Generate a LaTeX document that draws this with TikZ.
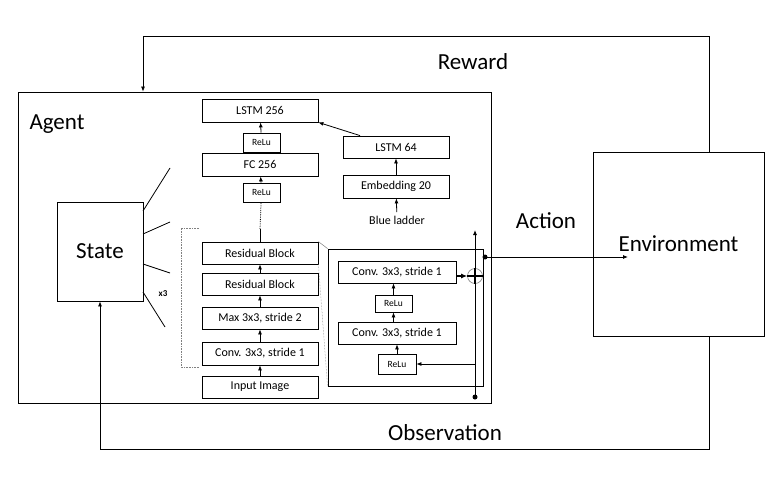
\documentclass[tikz,border=0pt]{standalone}
\usepackage{fontspec}
\setmainfont{Carlito}
\usetikzlibrary{arrows.meta}
\begin{document}
\begin{tikzpicture}[x=1pt,y=-1pt,line width=0.8pt,
    block/.style={draw,rectangle,inner sep=0,minimum width=116,minimum height=22,font=\fontsize{12}{14}\selectfont},
    relu/.style={draw,rectangle,inner sep=0,minimum width=37,minimum height=19,font=\fontsize{9.5}{11}\selectfont},
    big/.style={font=\fontsize{23}{27}\selectfont},
    flow/.style={-{Latex[length=5pt,width=4pt]}}]
        \useasboundingbox (0,0) rectangle (781,484);

        % agent and environment
        \draw (254.5,247.5) node[draw,minimum width=473,minimum height=311](agent) {};
        \draw (678.5,244) node[draw,big,minimum width=171,minimum height=184,fill=white](env) {Environment};
        \draw (57,124) node[big](agentlabel) {Agent};
        \draw (100,251.5) node[draw,big,minimum width=86,minimum height=99](state) {State};

        % loop round the two
        \draw[flow] (env.north -| 709,0) -- (709,36) -| (agent.north -| 143,0);
        \draw[flow] (env.south -| 709,0) -- (709,449) -| (state.south);
        \draw (473,62) node[big](reward) {Reward};
        \draw (445,433) node[big](obs) {Observation};
        \draw (546,221) node[big](action) {Action};

        % lines out of the state
        \draw (143,211) -- (170,168);
        \draw (143,234) -- (170,222);
        \draw (143,264) -- (170,273);
        \draw (143,292) -- (165,327);
        \draw (163,294) node[font=\fontsize{9}{11}\selectfont\bfseries](xthree) {x3};
        \draw[gray,densely dotted,line width=0.6pt] (199,228) -- (181,228) -- (181,367) -- (199,367);

        % image column
        \draw (260,110.5) node[block,minimum height=23](lstmbig) {LSTM 256};
        \draw (261.5,142.5) node[relu](relutwo) {ReLu};
        \draw (260,164.5) node[block,minimum height=23](fc) {FC 256};
        \draw (261.5,192.5) node[relu](reluone) {ReLu};
        \draw (260,253) node[block](resone) {Residual Block};
        \draw (260,284) node[block](restwo) {Residual Block};
        \draw (260,318) node[block](maxpool) {Max 3x3, stride 2};
        \draw (260,353.5) node[block,minimum height=23](convin) {Conv. 3x3, stride 1};
        \draw (260,387) node[block](input) {Input Image};

        \draw[flow] (input) -- (convin);
        \draw[flow] (convin) -- (maxpool);
        \draw[flow] (maxpool) -- (restwo);
        \draw[flow] (restwo) -- (resone);
        \coordinate (mid) at (260,229);
        \draw (resone) -- (mid);
        \draw[densely dotted] (mid) -- (reluone);
        \draw[flow] (reluone) -- (fc);
        \draw[flow] (relutwo) -- (lstmbig);

        % ladder column
        \draw (396,147) node[block,minimum width=106](lstmsmall) {LSTM 64};
        \draw (396,186.5) node[block,minimum width=106,minimum height=23](embed) {Embedding 20};
        \draw (397,220) node[font=\fontsize{12}{14}\selectfont](ladder) {Blue ladder};
        \draw[flow] (ladder) -- (embed);
        \draw[flow] (embed) -- (lstmsmall);
        \draw[flow] (lstmsmall) -- (lstmbig.south east);

        % residual block in detail
        \draw (405.5,317.5) node[draw,minimum width=155,minimum height=137](detail) {};
        \draw[gray,line width=0.5pt] (resone.north east) -- (detail.north west);
        \draw[gray,densely dotted,line width=0.5pt] (resone.south east) -- (detail.south west);
        \draw (397,272) node[block,minimum width=118](convtop) {Conv. 3x3, stride 1};
        \draw (393.5,303.5) node[relu,minimum height=17](relumid) {ReLu};
        \draw (397,333) node[block,minimum width=118](convlow) {Conv. 3x3, stride 1};
        \draw (397,364) node[relu,minimum width=38,minimum height=20](relulow) {ReLu};
        \draw[flow] (relulow) -- (convlow.south -| relulow);
        \draw[flow] (convlow.north -| relumid) -- (relumid);
        \draw[flow] (relumid) -- (convtop.south -| relumid);

        \coordinate (skipbot) at (475,397);
        \coordinate (skiptop) at (475,230);
        \draw[flow] (skipbot) -- (skiptop);
        \fill (skipbot) circle (2.5);
        \draw[flow] (relulow.east -| skipbot) -- (relulow.east);
        \draw (475,276) node[circle,draw=gray,line width=0.6pt,minimum size=15,inner sep=0](plus) {};
        \draw[line width=1.8pt] (plus.north) -- (plus.south) (plus.west) -- (plus.east);
        \draw[-{Latex[length=6pt,width=5pt]},line width=1.2pt] (convtop.east |- plus) -- (plus.west);

        % action out
        \coordinate (out) at (485,257);
        \fill (out) circle (2.5);
        \draw[flow] (out) -- (628,257);
\end{tikzpicture}
\end{document}
